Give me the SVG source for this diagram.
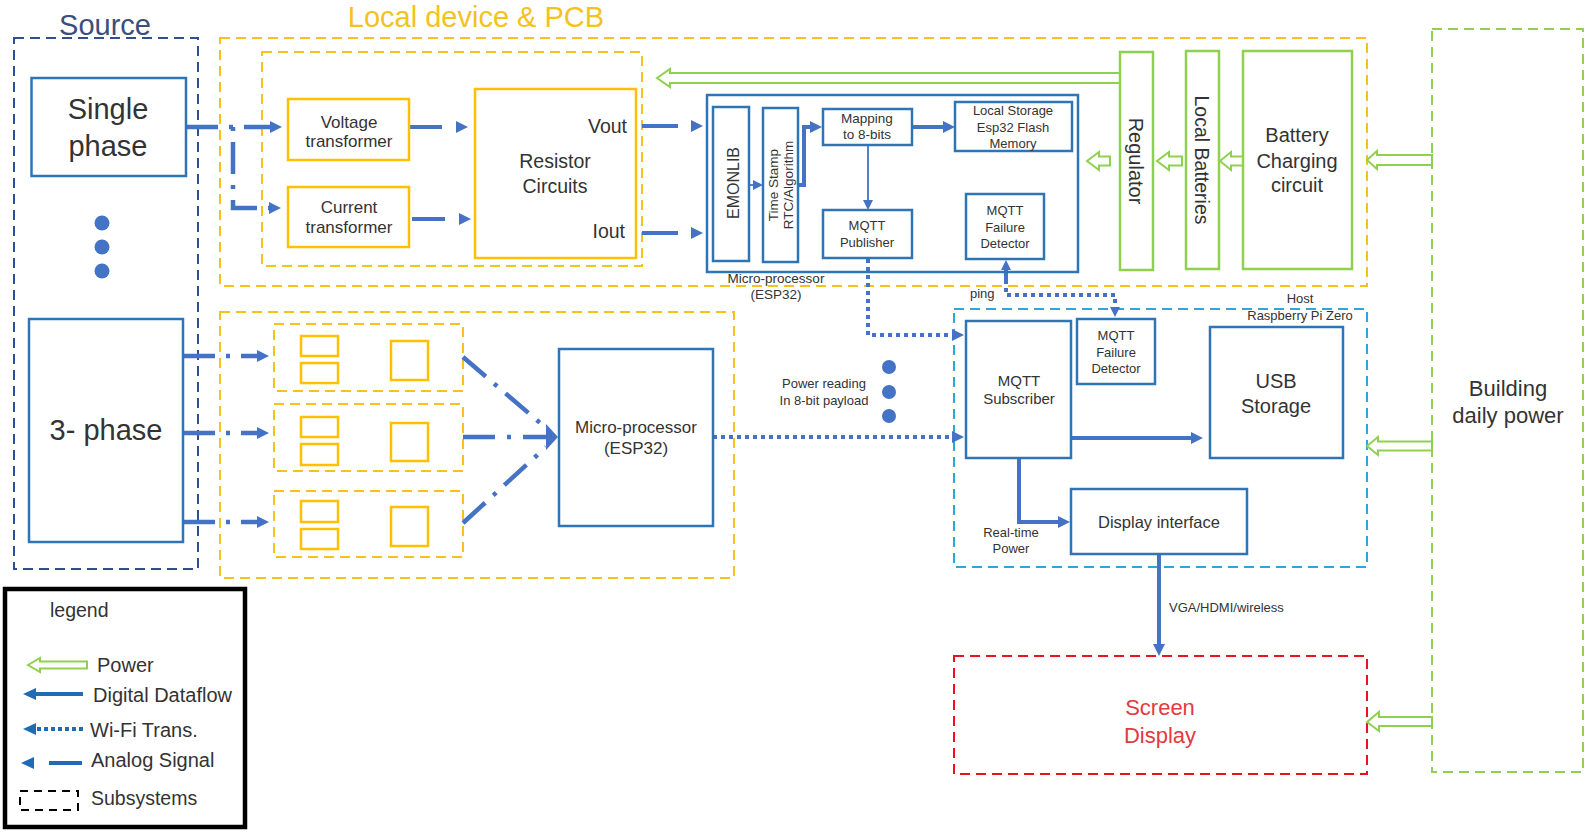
<svg xmlns="http://www.w3.org/2000/svg" width="1585" height="833" viewBox="0 0 1585 833">
<defs>
<style>
text{font-family:"Liberation Sans",Arial,sans-serif;fill:#333}
.c{text-anchor:middle}
.f13{font-size:13px}
.f16{font-size:16px}
.f17{font-size:17px}
.f20{font-size:20px}
.f22{font-size:22px}
.f29{font-size:29px}
.bb{fill:#fff;stroke:#2e75b6;stroke-width:2.5}
.yb{fill:#fff;stroke:#ffc000;stroke-width:2.5}
.gb{fill:#fff;stroke:#8fd14f;stroke-width:2.5}
.sub{fill:none;stroke-width:2;stroke-dasharray:10 6}
.dig{fill:none;stroke:#4472c4;stroke-width:4}
.thin{fill:none;stroke:#4472c4;stroke-width:1.8}
.wifi{fill:none;stroke:#4472c4;stroke-width:4;stroke-dasharray:4 4}
.ana{fill:none;stroke:#4472c4;stroke-width:4.5;stroke-dasharray:32 11 4 11}
.pw{fill:#fff;stroke:#8fd14f;stroke-width:2}
.dot{fill:#4472c4}
</style>
<marker id="ah" viewBox="0 0 12 12" markerWidth="12" markerHeight="12" refX="0" refY="6" orient="auto" markerUnits="userSpaceOnUse"><path d="M0,0 L12,6 L0,12 z" fill="#4472c4"/></marker>
<marker id="ahS" viewBox="0 0 10 10" markerWidth="10" markerHeight="10" refX="0" refY="5" orient="auto" markerUnits="userSpaceOnUse"><path d="M0,0 L10,5 L0,10 z" fill="#4472c4"/></marker>
<marker id="ahB" viewBox="0 0 12 26" markerWidth="12" markerHeight="26" refX="0" refY="13" orient="auto" markerUnits="userSpaceOnUse"><path d="M0,0 L12,13 L0,26 z" fill="#4472c4"/></marker>
<marker id="ahL" viewBox="0 0 13 12" markerWidth="13" markerHeight="12" refX="0" refY="6" orient="auto" markerUnits="userSpaceOnUse"><path d="M0,0 L13,6 L0,12 z" fill="#1f6bb5"/></marker>
</defs>
<rect width="1585" height="833" fill="#fff"/>

<g id="subsystems">
<rect class="sub" x="14" y="38" width="184" height="531" stroke="#2f4f8f"/>
<rect class="sub" x="220" y="38" width="1147" height="248" stroke="#f5c21b"/>
<rect class="sub" x="262" y="52" width="380" height="214" stroke="#f5c21b"/>
<rect class="sub" x="220" y="312" width="514" height="266" stroke="#f5c21b"/>
<rect class="sub" x="274" y="324" width="189" height="67" stroke="#f5c21b"/>
<rect class="sub" x="274" y="404" width="189" height="67" stroke="#f5c21b"/>
<rect class="sub" x="274" y="491" width="189" height="66" stroke="#f5c21b"/>
<rect class="sub" x="954" y="309" width="413" height="258" stroke="#2aa8dc"/>
<rect class="sub" x="954" y="656" width="413" height="118" stroke="#e8141b" stroke-width="2.5"/>
<rect class="sub" x="1432" y="29" width="151" height="743" stroke="#92d050"/>
<text x="105" y="35" class="c f29" style="fill:#3b4f7c">Source</text>
<text x="476" y="27" class="c f29" style="fill:#f5c21b">Local device &amp; PCB</text>
<text x="1300" y="303" class="c f13">Host</text>
<text x="1300" y="320" class="c f13">Raspberry Pi Zero</text>
<text x="1160" y="715" class="c f22" style="fill:#e23a3f">Screen</text>
<text x="1160" y="743" class="c f22" style="fill:#e23a3f">Display</text>
<text x="1508" y="396" class="c f22">Building</text>
<text x="1508" y="423" class="c f22">daily power</text>
</g>

<g id="connectors">
<!-- analog single phase -->
<path class="ana" d="M186,127 H270" marker-end="url(#ah)"/>
<path class="ana" d="M233,127 V208 H269" style="stroke-dashoffset:43" marker-end="url(#ah)"/>
<path class="dig" d="M410,127 H456" style="stroke-dasharray:32 40" marker-end="url(#ah)"/>
<path class="dig" d="M412,219 H459" style="stroke-dasharray:33 40" marker-end="url(#ah)"/>
<path class="dig" d="M642,126 H691" style="stroke-dasharray:36 50" marker-end="url(#ah)"/>
<path class="dig" d="M642,233 H691" style="stroke-dasharray:36 50" marker-end="url(#ah)"/>
<!-- analog 3 phase -->
<path class="ana" d="M183,356 H257" marker-end="url(#ah)"/>
<path class="ana" d="M183,433 H257" marker-end="url(#ah)"/>
<path class="ana" d="M183,522 H257" marker-end="url(#ah)"/>
<path class="ana" d="M463,357 L546,428" style="stroke-dasharray:30 11 4 11"/>
<path class="ana" d="M463,523 L546,447" style="stroke-dasharray:30 11 4 11"/>
<path class="ana" d="M463,437 H546" style="stroke-dasharray:32 12 4 12" marker-end="url(#ahB)"/>
<!-- digital inside ESP32 -->
<path class="thin" d="M749,185 H753" marker-end="url(#ahS)"/>
<path class="dig" d="M798,185 H804 V127 H810" marker-end="url(#ah)"/>
<path class="dig" d="M912,127 H943" marker-end="url(#ah)"/>
<path class="thin" d="M868,145 V200" marker-end="url(#ahS)"/>
<!-- wifi -->
<path class="wifi" d="M868,259 V335 H952" marker-end="url(#ah)"/>
<path class="wifi" d="M713,437 H952" marker-end="url(#ah)"/>
<path class="wifi" d="M1006,280 V295 H1115 V307" marker-end="url(#ahS)"/>
<path class="dig" d="M1006,282 V270" marker-end="url(#ahS)"/>
<text x="970" y="298" class="f13">ping</text>
<!-- host digital -->
<path class="dig" d="M1071,438 H1191" marker-end="url(#ah)"/>
<path class="dig" d="M1019,458 V522 H1058" marker-end="url(#ah)"/>
<path class="dig" d="M1159,554 V644" marker-end="url(#ah)"/>
<text x="1169" y="612" class="f13">VGA/HDMI/wireless</text>
<text x="1011" y="537" class="c f13">Real-time</text>
<text x="1011" y="553" class="c f13">Power</text>
<text x="824" y="388" class="c f13">Power reading</text>
<text x="824" y="405" class="c f13">In 8-bit payload</text>
<!-- power -->
<polygon class="pw" points="657,78 670,69 670,73 1120,73 1120,83 670,83 670,87"/>
<polygon class="pw" points="1367,160 1377,151 1377,155 1432,155 1432,165 1377,165 1377,169"/>
<polygon class="pw" points="1220,161 1231,152 1231,156.5 1243,156.5 1243,165.5 1231,165.5 1231,170"/>
<polygon class="pw" points="1157,161 1169,152 1169,156.5 1182,156.5 1182,165.5 1169,165.5 1169,170"/>
<polygon class="pw" points="1087,161 1099,152 1099,156.5 1110,156.5 1110,165.5 1099,165.5 1099,170"/>
<polygon class="pw" points="1367,446 1378,437 1378,441.5 1432,441.5 1432,450.5 1378,450.5 1378,455"/>
<polygon class="pw" points="1367,722 1379,712 1379,717 1432,717 1432,726 1379,726 1379,731"/>
</g>

<g id="dots">
<circle class="dot" cx="102" cy="223" r="7.5"/>
<circle class="dot" cx="102" cy="247" r="7.5"/>
<circle class="dot" cx="102" cy="271" r="7.5"/>
<circle class="dot" cx="889" cy="367" r="7"/>
<circle class="dot" cx="889" cy="392" r="7"/>
<circle class="dot" cx="889" cy="416" r="7"/>
</g>

<g id="single-phase"><rect class="bb" x="31.5" y="78" width="154.5" height="98"/>
<text x="108" y="119" class="c f29">Single</text><text x="108" y="156" class="c f29">phase</text></g>
<g id="three-phase"><rect class="bb" x="29" y="319" width="154" height="223"/>
<text x="106" y="440" class="c f29">3- phase</text></g>

<g id="voltage-transformer"><rect class="yb" x="288" y="99" width="121" height="61"/>
<text x="349" y="128" class="c f17">Voltage</text><text x="349" y="147" class="c f17">transformer</text></g>
<g id="current-transformer"><rect class="yb" x="288" y="187" width="121" height="60"/>
<text x="349" y="213" class="c f17">Current</text><text x="349" y="233" class="c f17">transformer</text></g>
<g id="resistor-circuits"><rect class="yb" x="475" y="89" width="161" height="169"/>
<text x="555" y="168" class="c" style="font-size:19.5px">Resistor</text><text x="555" y="193" class="c" style="font-size:19.5px">Circuits</text>
<text x="627" y="133" style="font-size:19.5px;text-anchor:end">Vout</text><text x="625" y="238" style="font-size:19.5px;text-anchor:end">Iout</text></g>

<g id="phase-circuit-1"><rect class="yb" x="301" y="336" width="37" height="20" stroke-width="2"/><rect class="yb" x="301" y="363" width="37" height="20" stroke-width="2"/><rect class="yb" x="391" y="341" width="37" height="39" stroke-width="2"/></g>
<g id="phase-circuit-2"><rect class="yb" x="301" y="417" width="37" height="20" stroke-width="2"/><rect class="yb" x="301" y="444" width="37" height="21" stroke-width="2"/><rect class="yb" x="391" y="423" width="37" height="38" stroke-width="2"/></g>
<g id="phase-circuit-3"><rect class="yb" x="301" y="501" width="37" height="21" stroke-width="2"/><rect class="yb" x="301" y="529" width="37" height="20" stroke-width="2"/><rect class="yb" x="391" y="507" width="37" height="39" stroke-width="2"/></g>

<g id="esp32-top"><rect class="bb" x="707" y="95" width="371" height="177" fill="none" style="fill:none"/>
<text x="776" y="283" class="c" style="font-size:13.5px">Micro-processor</text><text x="776" y="299" class="c" style="font-size:13.5px">(ESP32)</text></g>
<g id="emonlib"><rect class="bb" x="713" y="107" width="36" height="154"/>
<text transform="translate(739,183) rotate(-90)" class="c f16">EMONLIB</text></g>
<g id="time-stamp"><rect class="bb" x="763" y="108" width="35" height="154"/>
<text transform="translate(778,185) rotate(-90)" class="c" style="font-size:13.5px"><tspan x="0" y="0">Time Stamp</tspan><tspan x="0" y="15">RTC/Algorithm</tspan></text></g>
<g id="mapping"><rect class="bb" x="823" y="109" width="89" height="36"/>
<text x="867" y="123" class="c" style="font-size:13.5px">Mapping</text><text x="867" y="139" class="c" style="font-size:13.5px">to 8-bits</text></g>
<g id="local-storage"><rect class="bb" x="955" y="102" width="117" height="49"/>
<text x="1013" y="115" class="c f13">Local Storage</text><text x="1013" y="131.5" class="c f13">Esp32 Flash</text><text x="1013" y="148" class="c f13">Memory</text></g>
<g id="mqtt-publisher"><rect class="bb" x="823" y="210" width="89" height="48"/>
<text x="867" y="230" class="c f13">MQTT</text><text x="867" y="246.5" class="c f13">Publisher</text></g>
<g id="failure-detector-top"><rect class="bb" x="966" y="194" width="78" height="65"/>
<text x="1005" y="215" class="c f13">MQTT</text><text x="1005" y="231.5" class="c f13">Failure</text><text x="1005" y="248" class="c f13">Detector</text></g>

<g id="regulator"><rect class="gb" x="1120" y="52" width="33" height="218"/>
<text transform="translate(1129,161) rotate(90)" class="c f20">Regulator</text></g>
<g id="local-batteries"><rect class="gb" x="1186" y="51" width="33" height="218"/>
<text transform="translate(1195,160) rotate(90)" class="c" style="font-size:19.5px">Local Batteries</text></g>
<g id="battery-charging"><rect class="gb" x="1243" y="51" width="109" height="218"/>
<text x="1297" y="142" class="c f20">Battery</text><text x="1297" y="168" class="c f20">Charging</text><text x="1297" y="192" class="c f20">circuit</text></g>

<g id="esp32-lower"><rect class="bb" x="559" y="349" width="154" height="177"/>
<text x="636" y="433" class="c f17">Micro-processor</text><text x="636" y="454" class="c f17">(ESP32)</text></g>

<g id="mqtt-subscriber"><rect class="bb" x="966" y="321" width="105" height="137"/>
<text x="1019" y="386" class="c" style="font-size:15px">MQTT</text><text x="1019" y="404" class="c" style="font-size:15px">Subscriber</text></g>
<g id="failure-detector-host"><rect class="bb" x="1077" y="319" width="78" height="65"/>
<text x="1116" y="340" class="c f13">MQTT</text><text x="1116" y="356.5" class="c f13">Failure</text><text x="1116" y="373" class="c f13">Detector</text></g>
<g id="usb-storage"><rect class="bb" x="1210" y="327" width="133" height="131"/>
<text x="1276" y="388" class="c f20">USB</text><text x="1276" y="413" class="c f20">Storage</text></g>
<g id="display-interface"><rect class="bb" x="1071" y="489" width="176" height="65"/>
<text x="1159" y="528" class="c" style="font-size:16.5px">Display interface</text></g>

<g id="legend">
<rect x="5" y="589" width="240" height="238" fill="none" stroke="#000" stroke-width="4.5"/>
<text x="50" y="617" class="f20" style="font-size:19.5px">legend</text>
<polygon class="pw" points="28,665 40,658 40,661.5 87,661.5 87,668.5 40,668.5 40,672"/>
<text x="97" y="672" class="f20">Power</text>
<path d="M83,694 H36" fill="none" stroke="#1f6bb5" stroke-width="4" marker-end="url(#ahL)"/>
<text x="93" y="702" class="f20">Digital Dataflow</text>
<path d="M83,729 H36" fill="none" stroke="#1f6bb5" stroke-width="4" stroke-dasharray="4 3" marker-end="url(#ahL)"/>
<text x="90" y="737" class="f20">Wi-Fi Trans.</text>
<path d="M82,763 H34" fill="none" stroke="#1f6bb5" stroke-width="4" stroke-dasharray="33 100" marker-end="url(#ahL)"/>
<text x="91" y="767" class="f20">Analog Signal</text>
<rect x="20" y="791" width="58" height="19" fill="none" stroke="#000" stroke-width="2" stroke-dasharray="8 6"/>
<text x="91" y="805" class="f20" style="font-size:19.5px">Subsystems</text>
</g>
</svg>
